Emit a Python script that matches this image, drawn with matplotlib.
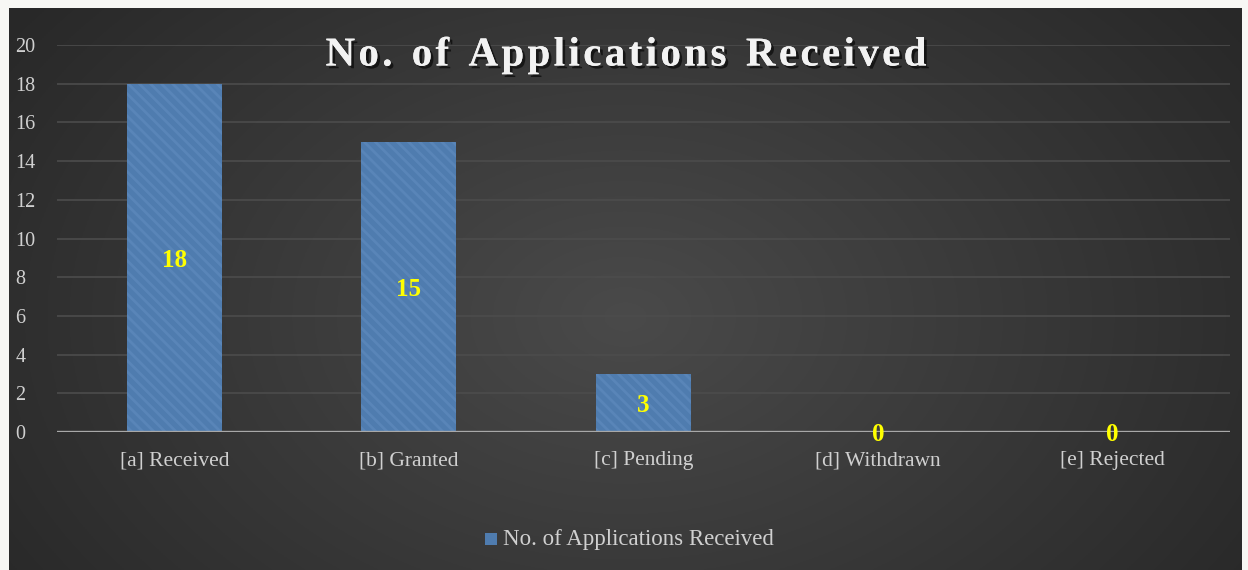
import numpy as np
import matplotlib.pyplot as plt
import matplotlib.patheffects as pe

# === DATA ===
categories = ["[a] Received", "[b] Granted", "[c] Pending", "[d] Withdrawn", "[e] Rejected"]
values = [18, 15, 3, 0, 0]
series_name = "No. of Applications Received"
y_ticks = [0, 2, 4, 6, 8, 10, 12, 14, 16, 18, 20]

W, H = 1248, 570
plt.rcParams['font.family'] = ['Liberation Serif', 'DejaVu Serif']
plt.rcParams['hatch.linewidth'] = 2.0

fig = plt.figure(figsize=(W / 100, H / 100), dpi=100)
fig.patch.set_facecolor('#f7f7f4')

# dark panel with a soft radial gradient
bg = fig.add_axes([9 / W, 0, (1242 - 9) / W, (570 - 8) / H])
yy, xx = np.mgrid[0:1:300j, 0:1:600j]
r = np.sqrt(((xx - 0.5) / 0.6) ** 2 + ((yy - 0.45) / 0.9) ** 2)
shade = 0.29 - 0.13 * np.clip(r, 0, 1)
bg.imshow(np.dstack([shade] * 3), aspect='auto', extent=[0, 1, 0, 1], origin='lower')
bg.set_axis_off()

# plot area
ax = fig.add_axes([57 / W, (H - 432) / H, (1230 - 57) / W, (432 - 45) / H])
ax.patch.set_alpha(0)
x = np.arange(len(categories))
bars = ax.bar(x, values, width=0.405, color='#4f7caf', edgecolor='#5985b8',
              hatch='\\\\\\', linewidth=0, zorder=3)

ax.set_xlim(-0.5, len(categories) - 0.5)
ax.set_ylim(0, 20)
ax.set_yticks(y_ticks)
ax.set_xticks(x)
ax.set_xticklabels(categories)
ax.tick_params(axis='both', length=0, colors='#d0d0d0', labelsize=15.5)
ax.tick_params(axis='y', labelsize=14.5)
ax.tick_params(axis='x', pad=14)
ax.tick_params(axis='y', pad=30)
for lbl in ax.get_yticklabels():
    lbl.set_horizontalalignment('left')
for s in ax.spines.values():
    s.set_visible(False)
ax.grid(axis='y', color='#4c4c4c', linewidth=1.2, zorder=0)
ax.axhline(0, color='#a8a8a8', linewidth=2.4, zorder=4)

# data labels
for xi, v in zip(x, values):
    ax.text(xi, v / 2, str(v), ha='center', va='center_baseline', color='#ffff00',
            fontsize=18, fontweight='bold', zorder=5)

# title, drawn letter by letter to get the wide spacing
renderer = fig.canvas.get_renderer()
title_size = 29.5
spacing = 3.4  # px between letters
shadow = [pe.withSimplePatchShadow(offset=(2, -2), shadow_rgbFace='black', alpha=0.6), pe.Normal()]
widths = []
for ch in series_name:
    t = fig.text(0, 0, ch if ch != ' ' else 'n', fontsize=title_size, fontweight='bold')
    w = t.get_window_extent(renderer).width
    widths.append(w * 0.55 if ch == ' ' else w)
    t.remove()
total = sum(widths) + spacing * (len(series_name) - 1)
xpos = 626 - total / 2
for ch, w in zip(series_name, widths):
    if ch != ' ':
        fig.text(xpos / W, 1 - 56 / H, ch, ha='left', va='center',
                 color='#f2f2f2', fontsize=title_size, fontweight='bold',
                 path_effects=shadow)
    xpos += w + spacing

# legend
fig.patches.append(plt.Rectangle((485 / W, 1 - 545 / H), 12 / W, 12 / H,
                                 transform=fig.transFigure, facecolor='#4f7caf',
                                 edgecolor='none', figure=fig))
fig.text(503 / W, 1 - 540 / H, series_name, ha='left', va='center',
         color='#d0d0d0', fontsize=16.5)

fig.savefig('out.png', dpi=100, facecolor=fig.get_facecolor())
